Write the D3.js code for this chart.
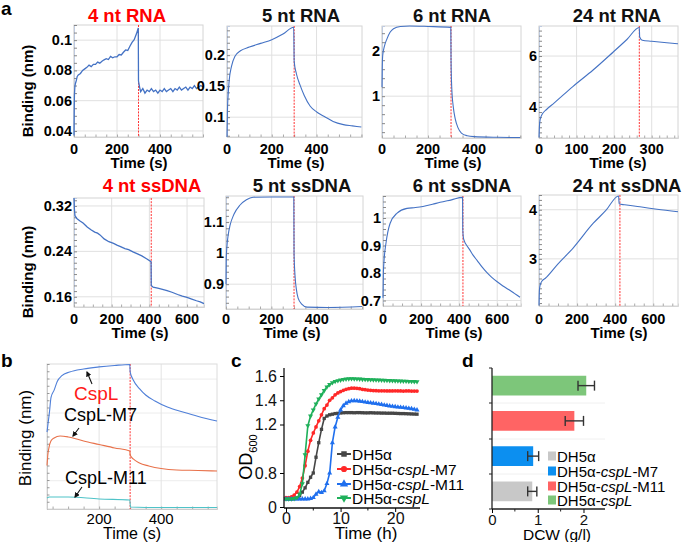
<!DOCTYPE html>
<html><head><meta charset="utf-8">
<script src="https://cdn.jsdelivr.net/npm/d3@7"></script>
<style>
body{margin:0;background:#fff}
svg{display:block;font-family:"Liberation Sans",Arial,sans-serif}
</style>
</head><body>
<svg id="fig" width="685" height="542"></svg>
<script>
// ---------------- DATA: panel a (time s, binding nm) ----------------
const rna4 = [[0,0.037],[1,0.055],[2,0.064],[4,0.069],[6,0.071],[10,0.073],[15,0.076],[20,0.077],[30,0.078],[40,0.080],[50,0.081],[60,0.082],[70,0.0835],[80,0.0825],[90,0.084],[100,0.084],[110,0.0855],[120,0.0848],[130,0.086],[140,0.087],[150,0.0878],[160,0.0872],[170,0.0892],[180,0.0883],[190,0.089],[200,0.089],[210,0.0905],[220,0.0902],[230,0.092],[240,0.0935],[250,0.0932],[260,0.096],[270,0.0985],[280,0.1003],[290,0.104],[299,0.108],
  [300,0.073],[305,0.069],[310,0.066],[320,0.068],[330,0.065],[340,0.067],[350,0.066],[360,0.068],[370,0.066],[380,0.067],[390,0.065],[400,0.067],[410,0.066],[420,0.068],[430,0.066],[440,0.067],[450,0.068],[460,0.066],[470,0.068],[480,0.067],[490,0.069],[500,0.067],[510,0.068],[520,0.069],[530,0.067],[540,0.069],[550,0.068],[560,0.070],[570,0.068],[580,0.069],[590,0.070],[600,0.069]];
const rna5 = [[0,0.068],[2,0.11],[5,0.135],[10,0.16],[20,0.182],[35,0.198],[60,0.207],[100,0.213],[150,0.219],[200,0.225],[250,0.234],[298,0.245],[300,0.19],[310,0.17],[326,0.152],[345,0.135],[371,0.118],[402,0.108],[440,0.1],[474,0.093],[520,0.088],[560,0.086],[600,0.084]];
const rna6 = [[0,1.2],[1,1.6],[3,1.9],[10,2.1],[22,2.28],[35,2.42],[50,2.5],[80,2.55],[120,2.56],[200,2.55],[299,2.53],[300,1.8],[303,1.2],[310,0.75],[318,0.5],[330,0.3],[345,0.18],[370,0.12],[400,0.1],[500,0.085],[600,0.08]];
const rna24 = [[0,2.8],[1,3.2],[3,3.5],[8,3.7],[20,3.9],[40,4.15],[90,4.8],[144,5.45],[197,6.15],[234,6.65],[267,7.12],[268,6.75],[275,6.62],[300,6.58],[340,6.52],[370,6.48]];
const dna4 = [[0,0.334],[2,0.315],[5,0.303],[15,0.298],[30,0.294],[48,0.29],[70,0.283],[90,0.278],[110,0.274],[125,0.272],[138,0.269],[160,0.262],[185,0.257],[210,0.254],[228,0.251],[250,0.248],[270,0.245],[290,0.243],[313,0.239],[340,0.235],[360,0.232],[385,0.227],[409,0.222],
  [410,0.18],[420,0.177],[450,0.175],[494,0.171],[520,0.168],[550,0.164],[575,0.161],[600,0.159],[625,0.156],[650,0.153],[670,0.151],[690,0.148]];
const dna5 = [[0,0.9],[1,0.98],[4,1.02],[10,1.06],[18,1.09],[35,1.125],[62,1.155],[90,1.172],[119,1.18],[200,1.181],[299,1.181],[300,1.0],[305,0.92],[310,0.885],[318,0.855],[335,0.835],[357,0.826],[450,0.825],[600,0.828]];
const dna6 = [[0,0.71],[2,0.8],[5,0.84],[16,0.91],[37,0.98],[74,1.018],[126,1.035],[170,1.038],[210,1.042],[260,1.05],[300,1.057],[360,1.066],[418,1.075],[419,0.96],[422,0.93],[428,0.915],[440,0.9],[455,0.885],[473,0.865],[495,0.845],[520,0.822],[545,0.802],[570,0.785],[600,0.768],[630,0.753],[660,0.74],[690,0.726],[720,0.712]];
const dna24 = [[0,2.05],[2,2.35],[5,2.45],[16,2.55],[32,2.6],[100,2.9],[179,3.22],[284,3.72],[350,3.98],[418,4.28],[421,4.12],[450,4.1],[530,4.06],[620,4.01],[730,3.96]];

const titlesA = ["4 nt RNA","5 nt RNA","6 nt RNA","24 nt RNA","4 nt ssDNA","5 nt ssDNA","6 nt ssDNA","24 nt ssDNA"];
const xTicksA = [[0,200,400],[0,200,400],[0,200,400],[0,100,200,300],[0,200,400,600],[0,200,400],[0,200,400,600],[0,200,400,600]];
const yTicksA = [[0.04,0.06,0.08,0.1],[0.1,0.15,0.2],[1,2],[4,6],[0.16,0.24,0.32],[0.9,1,1.1],[0.7,0.8,0.9,1],[3,4]];
const xDomA = [[0,600],[0,603],[0,604],[0,370],[0,690],[0,604],[0,725],[0,730]];
const yDomA = [[0.036,0.110],[0.068,0.247],[0.07,2.56],[2.78,7.18],[0.142,0.334],[0.82,1.184],[0.68,1.08],[2.04,4.3]];
const dissocA = [300,300,300,267,410,300,420,425];
const seriesA = [rna4,rna5,rna6,rna24,dna4,dna5,dna6,dna24];

// ---------------- DATA: panel b ----------------
const cspL = [[32,0.53],[36,0.6],[40,0.67],[45,0.77],[55,0.82],[65,0.88],[80,0.92],[105,0.945],[150,0.966],[200,0.98],[250,0.99],[299,0.997],[300,0.945],[310,0.89],[330,0.83],[350,0.786],[380,0.745],[420,0.703],[470,0.669],[520,0.638],[580,0.607]];
const cspLM7 = [[32,0.3],[35,0.38],[38,0.42],[45,0.47],[55,0.49],[74,0.503],[100,0.497],[150,0.469],[200,0.445],[250,0.421],[299,0.4],[300,0.372],[310,0.345],[330,0.317],[360,0.297],[400,0.279],[450,0.269],[520,0.266],[580,0.262]];
const cspLM11 = [[32,0.076],[40,0.083],[100,0.083],[200,0.069],[299,0.062],[301,0.014],[400,0.01],[580,0.01]];
const bXTicks = [200,400];

// ---------------- DATA: panel c ----------------
const hours = [0,0.5,1,1.5,2,2.5,3,3.5,4,4.5,5,5.5,6,6.5,7,7.5,8,8.5,9,9.5,10,10.5,11,11.5,12,12.5,13,13.5,14,14.5,15,15.5,16,16.5,17,17.5,18,18.5,19,19.5,20,20.5,21,21.5,22,22.5,23,23.5,24];
const odDH5a = [.19,.19,.19,.2,.21,.27,.35,.45,.58,.7, .8,.93,1.05,1.16,1.25,1.27,1.28,1.285,1.29,1.292, 1.295,1.297,1.298,1.298,1.298,1.297,1.298,1.298,1.297,1.296, 1.296,1.297,1.296,1.295,1.295,1.294,1.294,1.293,1.293,1.293, 1.292,1.291,1.29,1.29,1.289,1.288,1.287,1.286,1.285];
const odM7 = [.22,.22,.24,.28,.35,.48,.68,.86,.98,1.07, 1.13,1.18,1.23,1.28,1.33,1.36,1.4,1.42,1.445,1.46, 1.472,1.482,1.49,1.495,1.5,1.5,1.498,1.495,1.49,1.487, 1.484,1.482,1.48,1.479,1.478,1.478,1.478,1.477,1.477,1.477, 1.478,1.477,1.477,1.476,1.477,1.477,1.476,1.476,1.476];
const odM11 = [.19,.19,.19,.19,.19,.19,.19,.19,.19,.2, .22,.3,.36,.34,.38,.55,.8,1.05,1.18,1.26, 1.32,1.355,1.375,1.388,1.395,1.396,1.395,1.392,1.389,1.385, 1.382,1.379,1.375,1.372,1.368,1.365,1.36,1.357,1.353,1.35, 1.347,1.344,1.341,1.339,1.336,1.333,1.33,1.325,1.32];
const odCspL = [.19,.19,.19,.2,.22,.3,.55,.95,1.19,1.27, 1.32,1.37,1.41,1.445,1.48,1.51,1.53,1.545,1.555,1.562, 1.567,1.572,1.575,1.577,1.578,1.577,1.576,1.575,1.573,1.572, 1.571,1.57,1.569,1.568,1.567,1.566,1.565,1.564,1.563,1.562, 1.561,1.56,1.559,1.558,1.557,1.556,1.555,1.554,1.553];
const cYTicks = [0,0.8,1.2,1.4,1.6];
const cXTicks = [0,10,20];

// ---------------- DATA: panel d ----------------
const strains = ["DH5α","DH5α-cspL-M7","DH5α-cspL-M11","DH5α-cspL"];
const dcw = [0.88,0.9,1.8,2.06];
const dcwErr = [0.1,0.12,0.2,0.18];
const dXTicks = [0,1,2];

// ---------------- DRAW ----------------
const svg = d3.select("#fig");
const BLUE = "#4472c4";

function label(txt,x,y){
  svg.append("text").attr("x",x).attr("y",y).attr("font-size",19).attr("font-weight","bold").text(txt);
}
label("a",1,15); label("b",1,367); label("c",231,367); label("d",462,367);

const boxA = [
  {l:74,r:203,t:25,b:137,tx:127,ty:22,lx:139,ly:168},
  {l:227,r:362,t:26,b:137,tx:301,ty:22,lx:296,ly:168},
  {l:382,r:521,t:26,b:138,tx:452,ty:22,lx:453,ly:168},
  {l:539,r:678,t:26,b:138,tx:617,ty:22,lx:618,ly:168},
  {l:74,r:204,t:198,b:307,tx:152,ty:192,lx:140,ly:338},
  {l:226,r:363,t:196,b:309,tx:302,ty:192,lx:292,ly:338},
  {l:383,r:521,t:196,b:306,tx:462,ty:192,lx:454,ly:338},
  {l:539,r:678,t:195,b:306,tx:627,ty:192,lx:619,ly:338}
];

seriesA.forEach((data,i)=>{
  const B = boxA[i];
  const x = d3.scaleLinear().domain(xDomA[i]).range([B.l,B.r]);
  const y = d3.scaleLinear().domain(yDomA[i]).range([B.b,B.t]);
  const g = svg.append("g");
  g.selectAll(null).data(xTicksA[i]).join("line")
    .attr("x1",d=>x(d)).attr("x2",d=>x(d)).attr("y1",B.t).attr("y2",B.b)
    .attr("stroke","#e0e0e0").attr("stroke-width",1);
  g.selectAll(null).data(yTicksA[i]).join("line")
    .attr("x1",B.l).attr("x2",B.r).attr("y1",d=>y(d)).attr("y2",d=>y(d))
    .attr("stroke","#e0e0e0").attr("stroke-width",1);
  g.append("rect").attr("x",B.l).attr("y",B.t).attr("width",B.r-B.l).attr("height",B.b-B.t)
    .attr("fill","none").attr("stroke","#d4d4d4");
  const ay = g.append("g").attr("transform",`translate(${B.l},0)`)
    .call(d3.axisRight(y).ticks(16).tickSize(3).tickFormat(""));
  ay.select(".domain").attr("stroke","#bfcbe0");
  ay.selectAll(".tick line").attr("stroke","#888");
  const ax = g.append("g").attr("transform",`translate(0,${B.b})`)
    .call(d3.axisTop(x).ticks(12).tickSize(2.5).tickFormat(""));
  ax.select(".domain").attr("stroke","#d4d4d4");
  ax.selectAll(".tick line").attr("stroke","#aaa");
  g.append("line").attr("x1",x(dissocA[i])).attr("x2",x(dissocA[i])).attr("y1",B.t).attr("y2",B.b)
    .attr("stroke","#ff3333").attr("stroke-width",1).attr("stroke-dasharray","2,1.2");
  const noisy = (i===0||i===4);
  g.append("path").datum(data)
    .attr("d",d3.line().x(d=>x(d[0])).y(d=>y(d[1])).curve(noisy?d3.curveLinear:d3.curveMonotoneX))
    .attr("fill","none").attr("stroke",BLUE).attr("stroke-width",noisy?1.3:1.1);
  g.selectAll(null).data(yTicksA[i]).join("text")
    .attr("x",B.l-2).attr("y",d=>y(d)+5).attr("text-anchor","end")
    .attr("font-size",14.5).attr("font-weight","bold").text(d=>String(d));
  g.selectAll(null).data(xTicksA[i]).join("text")
    .attr("x",d=>x(d)).attr("y",B.ly-14).attr("text-anchor","middle")
    .attr("font-size",14.5).attr("font-weight","bold").text(d=>String(d));
  g.append("text").attr("x",B.lx).attr("y",B.ly).attr("text-anchor","middle")
    .attr("font-size",15).attr("font-weight","bold").text("Time (s)");
  g.append("text").attr("x",B.tx).attr("y",B.ty).attr("text-anchor","middle")
    .attr("font-size",18.5).attr("font-weight","bold")
    .attr("fill",(i===0||i===4)?"#ff0000":"#111").text(titlesA[i]);
});
[[33,91],[33,272]].forEach(p=>{
  svg.append("text").attr("transform",`translate(${p[0]},${p[1]}) rotate(-90)`)
    .attr("text-anchor","middle").attr("font-size",15).attr("font-weight","bold").text("Binding (nm)");
});

// ---------------- panel b ----------------
{
  const B = {l:47,r:217,t:364,b:509};
  const x = d3.scaleLinear().domain([32,580]).range([B.l,B.r]);
  const y = d3.scaleLinear().domain([0,1]).range([B.b,B.t]);
  const g = svg.append("g");
  g.selectAll(null).data([0.195,0.428,0.662,0.896]).join("line")
    .attr("x1",B.l).attr("x2",B.r).attr("y1",d=>y(d)).attr("y2",d=>y(d)).attr("stroke","#ececec");
  g.selectAll(null).data(bXTicks).join("line")
    .attr("x1",d=>x(d)).attr("x2",d=>x(d)).attr("y1",B.t).attr("y2",B.b).attr("stroke","#e3e3e3");
  g.append("rect").attr("x",B.l).attr("y",B.t).attr("width",B.r-B.l).attr("height",B.b-B.t)
    .attr("fill","none").attr("stroke","#dcdcdc");
  const ay = g.append("g").attr("transform",`translate(${B.l},0)`)
    .call(d3.axisRight(y).ticks(20).tickSize(2.5).tickFormat(""));
  ay.select(".domain").attr("stroke","#ccc");
  ay.selectAll(".tick line").attr("stroke","#999");
  const ax = g.append("g").attr("transform",`translate(0,${B.b})`)
    .call(d3.axisTop(x).ticks(12).tickSize(2.5).tickFormat(""));
  ax.select(".domain").attr("stroke","#ccc");
  ax.selectAll(".tick line").attr("stroke","#aaa");
  g.append("line").attr("x1",x(300)).attr("x2",x(300)).attr("y1",B.t).attr("y2",B.b)
    .attr("stroke","#ff3333").attr("stroke-dasharray","2,1.2");
  const ln = d3.line().x(d=>x(d[0])).y(d=>y(d[1])).curve(d3.curveMonotoneX);
  [[cspL,"#4f7fd8"],[cspLM7,"#e8714a"],[cspLM11,"#4fc3c8"]].forEach(s=>{
    g.append("path").datum(s[0]).attr("d",ln).attr("fill","none").attr("stroke",s[1]).attr("stroke-width",1.1);
  });
  g.selectAll(null).data(bXTicks).join("text").attr("x",d=>x(d)).attr("y",524)
    .attr("text-anchor","middle").attr("font-size",15).text(d=>d);
  g.append("text").attr("x",132).attr("y",539).attr("text-anchor","middle").attr("font-size",16).text("Time (s)");
  g.append("text").attr("transform","translate(31,438) rotate(-90)").attr("text-anchor","middle")
    .attr("font-size",17).text("Binding (nm)");
  g.append("text").attr("x",74).attr("y",400).attr("font-size",19).attr("fill","#ff1a1a").text("CspL");
  g.append("text").attr("x",64).attr("y",421).attr("font-size",18).text("CspL-M7");
  g.append("text").attr("x",65).attr("y",484).attr("font-size",18).text("CspL-M11");
  svg.append("defs").append("marker").attr("id","ah").attr("viewBox","0 0 10 10")
    .attr("refX",8).attr("refY",5).attr("markerWidth",5).attr("markerHeight",5).attr("orient","auto")
    .append("path").attr("d","M0,0L10,5L0,10z").attr("fill","#111");
  [[92,384,87,372],[79,428,73,436],[82,487,75,497]].forEach(a=>{
    g.append("line").attr("x1",a[0]).attr("y1",a[1]).attr("x2",a[2]).attr("y2",a[3])
      .attr("stroke","#111").attr("stroke-width",1.1).attr("marker-end","url(#ah)");
  });
}

// ---------------- panel c ----------------
{
  const x = d3.scaleLinear().domain([0,24]).range([286,417]);
  const y = d3.scaleLinear().domain([0,0.8,1.6]).range([507,473,376]);
  const g = svg.append("g");
  const cs = [
    {v:odDH5a,c:"#464646",sym:d3.symbolSquare,name:["DH5α"],rot:0},
    {v:odM7,c:"#ff2828",sym:d3.symbolCircle,name:["DH5α-","cspL","-M7"],rot:0},
    {v:odM11,c:"#1f6fee",sym:d3.symbolTriangle,name:["DH5α-","cspL","-M11"],rot:0},
    {v:odCspL,c:"#1fb05a",sym:d3.symbolTriangle,name:["DH5α-","cspL"],rot:180}
  ];
  cs.forEach(s=>{
    const pts = hours.map((h,k)=>[h,s.v[k]]);
    g.append("path").datum(pts).attr("d",d3.line().x(d=>x(d[0])).y(d=>y(d[1])))
      .attr("fill","none").attr("stroke",s.c).attr("stroke-width",1.6);
    g.selectAll(null).data(pts).join("path")
      .attr("transform",d=>`translate(${x(d[0])},${y(d[1])}) rotate(${s.rot})`)
      .attr("d",d3.symbol().type(s.sym).size(11)).attr("fill",s.c);
  });
  g.append("line").attr("x1",284).attr("x2",284).attr("y1",368).attr("y2",508).attr("stroke","#111").attr("stroke-width",1.3);
  g.append("line").attr("x1",284).attr("x2",420).attr("y1",508).attr("y2",508).attr("stroke","#111").attr("stroke-width",1.3);
  const ay = g.append("g").attr("transform","translate(284,0)")
    .call(d3.axisLeft(y).tickValues(cYTicks).tickSize(4).tickFormat(d=>d===0?"0":d.toFixed(1)));
  ay.select(".domain").remove();
  ay.selectAll("text").attr("font-size",16).attr("font-family","Liberation Sans, Arial").attr("fill","#111");
  const ax = g.append("g").attr("transform","translate(0,508)")
    .call(d3.axisBottom(x).tickValues(cXTicks).tickSize(4).tickPadding(1).tickFormat(d3.format("d")));
  ax.select(".domain").remove();
  ax.selectAll("text").attr("font-size",16).attr("font-family","Liberation Sans, Arial").attr("fill","#111");
  g.selectAll(null).data([5,15]).join("line").attr("x1",d=>x(d)).attr("x2",d=>x(d))
    .attr("y1",508).attr("y2",510.5).attr("stroke","#111");
  g.append("text").attr("x",366).attr("y",539).attr("text-anchor","middle").attr("font-size",17).text("Time (h)");
  const od = g.append("text").attr("transform","translate(252,457) rotate(-90)").attr("text-anchor","middle").attr("font-size",18);
  od.append("tspan").text("OD");
  od.append("tspan").attr("font-size",11).attr("dy",5).text("600");
  const rows = [454,469,484,498];
  cs.forEach((s,k)=>{
    g.append("line").attr("x1",337).attr("x2",351).attr("y1",rows[k]).attr("y2",rows[k]).attr("stroke",s.c).attr("stroke-width",2);
    g.append("path").attr("transform",`translate(344,${rows[k]}) rotate(${s.rot})`)
      .attr("d",d3.symbol().type(s.sym).size(30)).attr("fill",s.c);
    const t = g.append("text").attr("x",352).attr("y",rows[k]+5.5).attr("font-size",15.5);
    s.name.forEach(p=>t.append("tspan").attr("font-style",p==="cspL"?"italic":"normal").text(p));
  });
}

// ---------------- panel d ----------------
{
  const x = d3.scaleLinear().domain([0,2.47]).range([492,605]);
  const y = d3.scaleBand().domain(strains.slice().reverse()).range([368,509]).paddingInner(0.44).paddingOuter(0.22);
  const cols = ["#c8c8c8","#0c8ff0","#ff6464","#7dc67a"];
  const g = svg.append("g");
  g.selectAll(null).data([403,439,474]).join("line").attr("x1",492).attr("x2",605)
    .attr("y1",d=>d).attr("y2",d=>d).attr("stroke","#f0f0f0");
  g.selectAll(null).data(strains).join("rect")
    .attr("x",x(0)).attr("y",d=>y(d)).attr("height",y.bandwidth())
    .attr("width",(d,k)=>x(dcw[k])-x(0)).attr("fill",(d,k)=>cols[k]);
  strains.forEach((s,k)=>{
    const cy = y(s)+y.bandwidth()/2, x1 = x(dcw[k]-dcwErr[k]), x2 = x(dcw[k]+dcwErr[k]);
    g.append("line").attr("x1",x1).attr("x2",x2).attr("y1",cy).attr("y2",cy).attr("stroke","#333").attr("stroke-width",1.4);
    [x1,x2].forEach(xx=>g.append("line").attr("x1",xx).attr("x2",xx).attr("y1",cy-5).attr("y2",cy+5).attr("stroke","#333").attr("stroke-width",1.4));
  });
  g.append("line").attr("x1",492).attr("x2",492).attr("y1",368).attr("y2",509).attr("stroke","#222").attr("stroke-width",1.3);
  g.append("line").attr("x1",492).attr("x2",605).attr("y1",509).attr("y2",509).attr("stroke","#222").attr("stroke-width",1.3);
  g.selectAll(null).data([368,403,439,474,509]).join("line").attr("x1",489).attr("x2",492)
    .attr("y1",d=>d).attr("y2",d=>d).attr("stroke","#222");
  const ax = g.append("g").attr("transform","translate(0,509)")
    .call(d3.axisBottom(x).tickValues(dXTicks).tickSize(4).tickPadding(1).tickFormat(d3.format("d")));
  ax.select(".domain").remove();
  ax.selectAll("text").attr("font-size",15).attr("font-family","Liberation Sans, Arial").attr("fill","#111");
  g.selectAll(null).data([0.5,1.5]).join("line").attr("x1",d=>x(d)).attr("x2",d=>x(d))
    .attr("y1",509).attr("y2",511.5).attr("stroke","#222");
  g.append("text").attr("x",557).attr("y",540).attr("text-anchor","middle").attr("font-size",15.5).text("DCW (g/l)");
  const rows = [456,471,486,500];
  const names = [["DH5α"],["DH5α-","cspL","-M7"],["DH5α-","cspL","-M11"],["DH5α-","cspL"]];
  names.forEach((n,k)=>{
    g.append("rect").attr("x",548).attr("y",rows[k]-4.5).attr("width",8).attr("height",9).attr("fill",cols[k]);
    const t = g.append("text").attr("x",557).attr("y",rows[k]+5.5).attr("font-size",15);
    n.forEach(p=>t.append("tspan").attr("font-style",p==="cspL"?"italic":"normal").text(p));
  });
}
</script>
</body></html>
